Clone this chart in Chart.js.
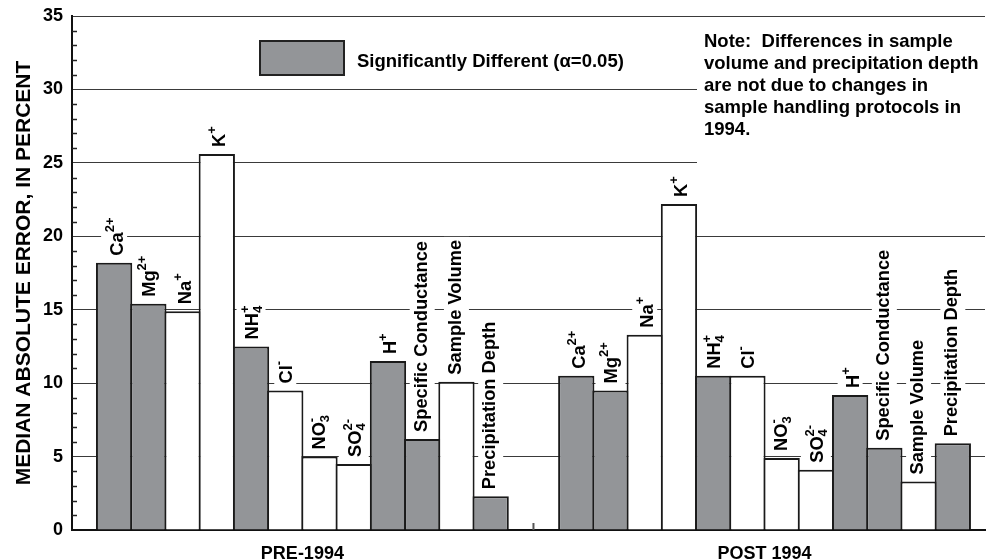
<!DOCTYPE html>
<html>
<head>
<meta charset="utf-8">
<script src="https://cdn.jsdelivr.net/npm/chart.js@4.4.1/dist/chart.umd.min.js"></script>
<style>
  html, body { margin: 0; padding: 0; background: #fff; }
  #wrap { width: 986px; height: 559px; }
</style>
</head>
<body>
<div id="wrap"><canvas id="mae_chart"></canvas></div>
<script>
// '_' = subscript, '^' = superscript
const categories = ['Ca^2+', 'Mg^2+', 'Na^+', 'K^+', 'NH_4^+', 'Cl^-', 'NO_3^-', 'SO_4^2-', 'H^+',
                    'Specific Conductance', 'Sample Volume', 'Precipitation Depth'];
const periods = ['PRE-1994', 'POST 1994'];
const pre_values  = [18.2, 15.4, 14.9, 25.6, 12.5, 9.5, 5.0, 4.5, 11.5, 6.2, 10.1, 2.3];
const post_values = [10.5, 9.5, 13.3, 22.2, 10.5, 10.5, 4.9, 4.1, 9.2, 5.6, 3.3, 5.9];
const pre_signif  = [true, true, false, false, true, false, false, false, true, true, false, true];
const post_signif = [true, true, false, false, true, false, false, false, true, true, false, true];
const y_ticks = [0, 5, 10, 15, 20, 25, 30, 35];
const legend_text = 'Significantly Different (\u03b1=0.05)';
const note_lines = ['Note:  Differences in sample', 'volume and precipitation depth',
                    'are not due to changes in', 'sample handling protocols in', '1994.'];

const GREY = '#939598';
const FONT = "'Liberation Sans', Arial, sans-serif";
const LABEL_FONT = 'bold 18.3px ' + FONT;
const SMALL_FONT = 'bold 13px ' + FONT;
const GROUP_GAP = 1.5;
const SUP_RISE = 9;
const SUB_DROP = 4;
const LABEL_GAP = 7;

const points = [];
const fills = [];
[pre_values, post_values].forEach(function(vals, g){
    const sig = g === 0 ? pre_signif : post_signif;
    vals.forEach(function(v, i){
        points.push({x: g * (categories.length + GROUP_GAP) + i, y: v, label: categories[i]});
        fills.push(sig[i] ? GREY : '#ffffff');
    });
});
const group_centers = periods.map(function(p, g){
    return g * (categories.length + GROUP_GAP) + (categories.length - 1) / 2;
});
const gap_mid = categories.length - 0.5 + GROUP_GAP / 2;

function parseLabel(s){
    const m = s.match(/^([^_^]*)(?:_([^\^]*))?(?:\^(.*))?$/);
    return {base: m[1], sub: m[2] || '', sup: m[3] || ''};
}

function labelBox(ctx, s){
    const p = parseLabel(s);
    ctx.font = LABEL_FONT;
    const bm = ctx.measureText(p.base);
    ctx.font = SMALL_FONT;
    const supM = p.sup ? ctx.measureText(p.sup) : null;
    const subM = p.sub ? ctx.measureText(p.sub) : null;
    const top = Math.max(bm.actualBoundingBoxAscent, supM ? SUP_RISE + supM.actualBoundingBoxAscent : 0);
    const bottom = Math.max(bm.actualBoundingBoxDescent, subM ? SUB_DROP : 0);
    const len = bm.width + Math.max(supM ? supM.width : 0, subM ? subM.width : 0);
    return {p: p, baseW: bm.width, top: top, bottom: bottom, len: len};
}

function noPad(scale){
    scale.paddingTop = 0;
    scale.paddingBottom = 0;
    scale.paddingLeft = 0;
    scale.paddingRight = 0;
}

const barLabels = {
    id: 'barLabels',
    beforeDatasetsDraw(chart){
        const ctx = chart.ctx;
        const meta = chart.getDatasetMeta(0);
        ctx.save();
        ctx.fillStyle = '#fff';
        meta.data.forEach(function(bar, k){
            const b = labelBox(ctx, points[k].label);
            ctx.save();
            ctx.translate(bar.x + (b.top - b.bottom) / 2, bar.y - LABEL_GAP);
            ctx.rotate(-Math.PI / 2);
            ctx.fillRect(-3, -b.top - 4, b.len + 6, b.top + b.bottom + 8);
            ctx.restore();
        });
        // note area
        const a = chart.chartArea;
        ctx.fillRect(697, a.top + 2, a.right - 697 + 2, 160);
        ctx.restore();
    },
    afterDatasetsDraw(chart){
        const ctx = chart.ctx;
        const meta = chart.getDatasetMeta(0);
        const ys = chart.scales.y, xs = chart.scales.x;
        const a = chart.chartArea;
        ctx.save();
        ctx.fillStyle = '#000';
        ctx.textBaseline = 'alphabetic';
        ctx.textAlign = 'left';
        meta.data.forEach(function(bar, k){
            const b = labelBox(ctx, points[k].label);
            ctx.save();
            ctx.translate(bar.x + (b.top - b.bottom) / 2, bar.y - LABEL_GAP);
            ctx.rotate(-Math.PI / 2);
            ctx.font = LABEL_FONT;
            ctx.fillText(b.p.base, 0, 0);
            ctx.font = SMALL_FONT;
            if (b.p.sup) ctx.fillText(b.p.sup, b.baseW, -SUP_RISE);
            if (b.p.sub) ctx.fillText(b.p.sub, b.baseW, SUB_DROP);
            ctx.restore();
        });

        // minor ticks on y axis
        ctx.strokeStyle = '#222';
        ctx.lineWidth = 1.5;
        for (let v = 1; v < 35; v++){
            if (v % 5 === 0) continue;
            const py = Math.round(ys.getPixelForValue(v)) + 0.5;
            ctx.beginPath();
            ctx.moveTo(a.left, py);
            ctx.lineTo(a.left + 5, py);
            ctx.stroke();
        }
        // tick between the two periods
        const gx = xs.getPixelForValue(gap_mid);
        ctx.strokeStyle = '#555';
        ctx.lineWidth = 2;
        ctx.beginPath();
        ctx.moveTo(gx, a.bottom);
        ctx.lineTo(gx, a.bottom - 7);
        ctx.stroke();

        // legend
        ctx.fillStyle = GREY;
        ctx.fillRect(260, 41, 84, 34);
        ctx.strokeStyle = '#222';
        ctx.lineWidth = 2;
        ctx.strokeRect(260, 41, 84, 34);
        ctx.fillStyle = '#000';
        ctx.font = 'bold 18.5px ' + FONT;
        ctx.fillText(legend_text, 357, 66.5);

        // note
        note_lines.forEach(function(t, i){
            ctx.fillText(t, 704, 46.5 + i * 22.2);
        });
        ctx.restore();
    }
};

const ctx = document.getElementById('mae_chart').getContext('2d');
const mae_chart = new Chart(ctx, {
    type: 'bar',
    data: {
        datasets: [{
            data: points,
            backgroundColor: fills,
            borderColor: '#1a1a1a',
            borderWidth: 2,
            barPercentage: 1.06,
            categoryPercentage: 1
        }]
    },
    options: {
        responsive: true,
        maintainAspectRatio: false,
        animation: false,
        layout: {padding: {top: 16, right: 1, bottom: 0, left: 0}},
        plugins: {legend: {display: false}, tooltip: {enabled: false}},
        scales: {
            x: {
                type: 'linear',
                offset: false,
                min: -1.23,
                max: 25.44,
                grid: {display: false, offset: false},
                border: {display: true, color: '#111', width: 2},
                afterBuildTicks: function(scale){
                    scale.ticks = group_centers.map(function(c){ return {value: c}; });
                },
                afterFit: function(scale){ scale.height = 29; noPad(scale); },
                ticks: {
                    autoSkip: false,
                    maxRotation: 0,
                    padding: 5,
                    color: '#000',
                    font: {family: FONT, size: 18, weight: 'bold'},
                    callback: function(v, i){ return periods[i]; }
                }
            },
            y: {
                min: 0,
                max: 35,
                afterBuildTicks: function(scale){
                    scale.ticks = y_ticks.map(function(v){ return {value: v}; });
                },
                afterFit: function(scale){ scale.width = 72; noPad(scale); },
                grid: {color: '#3a3a3a', lineWidth: 1, drawTicks: false},
                border: {display: true, color: '#111', width: 2},
                ticks: {
                    padding: 9,
                    color: '#000',
                    font: {family: FONT, size: 18, weight: 'bold'}
                },
                title: {
                    display: true,
                    text: 'MEDIAN ABSOLUTE ERROR, IN PERCENT',
                    color: '#000',
                    padding: {top: 12, bottom: 0},
                    font: {family: FONT, size: 21, weight: 'bold'}
                }
            }
        }
    },
    plugins: [barLabels]
});
</script>
</body>
</html>
